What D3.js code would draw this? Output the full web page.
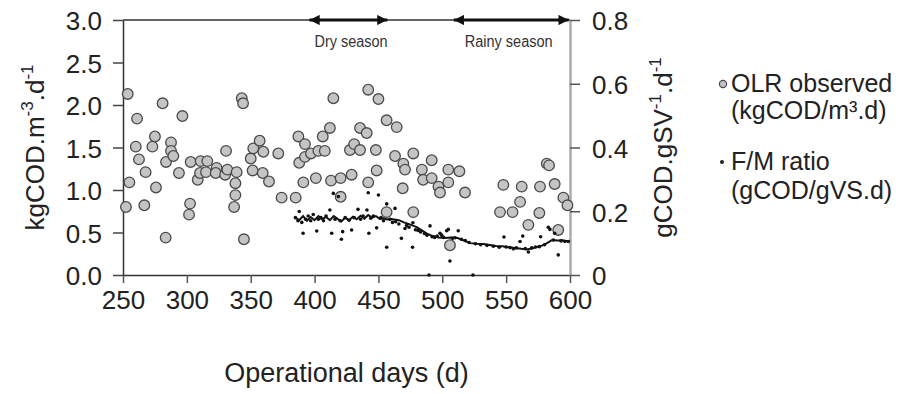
<!DOCTYPE html>
<html>
<head>
<meta charset="utf-8">
<script src="https://cdn.jsdelivr.net/npm/d3@7/dist/d3.min.js"></script>
<style>
  body { margin: 0; background: #fff; }
  svg { font-family: "Liberation Sans", Arial, sans-serif; }
  .axis text { fill: #222; }
</style>
</head>
<body>
<svg id="chart" width="903" height="394"></svg>
<script>
var svg = d3.select("#chart");

// plot box (not called "top": that name is taken by window.top)
var plotLeft = 123, plotRight = 570, plotTop = 20, plotBottom = 275;

// OLR observed (kgCOD/m3.d) - left axis
var olrDays = [253.7, 252.3, 255, 261, 260, 262.5, 267.7, 266.7, 281, 275, 273, 275.8, 283.4, 283.7, 287.6, 287.6, 289.4,
  296.5, 293.8, 303, 302.5, 301.7, 308.5, 310.8, 310.3, 316, 315, 323.3, 322.6, 330, 330.7, 331.7, 339, 338, 338, 337,
  343, 344, 344.7, 350, 351.5, 352, 357, 359.9, 359.4, 364.3, 371.6, 374.2, 385.2, 387.3, 392.5, 388, 392.5, 397.2,
  391.2, 401, 403, 408, 406.4, 412, 414.7, 412.9, 420.4, 420.4, 429, 427.7, 431, 435.6, 435.6, 440.8, 442, 450, 442,
  448, 448.6, 456.4, 464.3, 463, 469.5, 470.8, 477.3, 469, 477.3, 456.4, 491.7, 484, 485, 491.7, 497, 498.2, 504.7,
  504.7, 513.4, 517.8, 506, 547.8, 545.2, 555, 562.2, 560.9, 576.5, 576, 567.4, 581.8, 583.6, 588, 594.8, 598, 590.8];
var olrValues = [2.13, 0.80, 1.09, 1.84, 1.51, 1.36, 1.21, 0.82, 2.02, 1.63, 1.51, 1.03, 0.44, 1.33, 1.56, 1.46, 1.40,
  1.87, 1.20, 1.33, 0.84, 0.71, 1.12, 1.34, 1.20, 1.34, 1.21, 1.26, 1.20, 1.18, 1.46, 1.24, 1.21, 1.08, 0.94, 0.80,
  2.08, 2.02, 0.42, 1.37, 1.23, 1.49, 1.58, 1.45, 1.20, 1.10, 1.43, 0.91, 0.91, 1.63, 1.54, 1.32, 1.39, 1.43,
  1.09, 1.14, 1.46, 1.46, 1.63, 1.73, 2.08, 1.11, 1.14, 0.92, 1.18, 1.47, 1.54, 1.47, 1.73, 1.67, 2.18, 2.07, 1.09,
  1.47, 1.23, 1.82, 1.74, 1.40, 1.31, 1.24, 1.43, 1.02, 0.74, 0.74, 1.35, 1.24, 1.12, 1.14, 1.04, 0.97, 1.24,
  1.09, 1.22, 0.97, 0.35, 1.06, 0.74, 0.74, 1.04, 0.86, 1.04, 0.73, 0.59, 1.31, 1.29, 1.07, 0.91, 0.82, 0.53];

// F/M ratio (gCOD/gVS.d) - right axis
var fmDays = [385, 387, 388, 390, 391, 393, 395, 397, 399, 401.7, 403, 405, 407, 409, 412, 413.4, 414.7, 416, 418.6, 420,
  421, 422, 424, 427, 429, 431, 434, 436, 438, 441, 442, 442.5, 444, 446, 448.6, 450, 452, 454, 456.5, 456.5, 459, 461,
  463, 463.5, 466, 468, 470.8, 472, 474, 476.7, 477, 479, 481, 483, 486, 488, 489.6, 490.4, 492, 494, 496, 498.2, 499.5,
  501, 503.4, 504.7, 506, 508, 510, 512.5, 515, 518, 521, 524, 526, 530, 535, 540, 544.6, 548.3, 550, 553, 555.6, 558,
  560.9, 563, 565, 567.4, 570, 573, 576, 577, 580, 583, 584.3, 587, 588, 590.8, 593, 596, 598.7];
var fmValues = [0.18, 0.17, 0.199, 0.165, 0.131, 0.175, 0.185, 0.17, 0.19, 0.138, 0.175, 0.18, 0.17, 0.185, 0.204, 0.131,
  0.256, 0.175, 0.246, 0.17, 0.112, 0.136, 0.18, 0.172, 0.141, 0.18, 0.206, 0.175, 0.185, 0.204, 0.258, 0.131, 0.178,
  0.185, 0.148, 0.251, 0.18, 0.17, 0.223, 0.087, 0.175, 0.165, 0.209, 0.167, 0.16, 0.115, 0.146, 0.155, 0.15, 0.087,
  0.164, 0.142, 0.14, 0.135, 0.13, 0.125, 0, 0.154, 0.12, 0.118, 0.122, 0.131, 0.125, 0.118, 0.139, 0.143, 0.044,
  0.115, 0.117, 0.139, 0.112, 0.108, 0.102, 0, 0.098, 0.095, 0.093, 0.09, 0.087, 0.119, 0.088, 0.086, 0.082, 0.085,
  0.105, 0.122, 0.083, 0.072, 0.085, 0.088, 0.089, 0.12, 0.095, 0.15, 0.143, 0.11, 0.131, 0.063, 0.107, 0.105, 0.105];

// smoothed F/M trend line
var trendDays = [385, 388, 391, 394, 397, 400, 403, 406, 409, 412, 415, 418, 421, 424, 427, 430, 433, 436, 439, 442, 445,
  448, 451, 454, 457, 460, 466, 470, 475, 480, 484, 488, 492, 497, 502, 507, 512, 517, 522, 527, 532, 537, 542, 547,
  552, 557, 562, 566, 570, 574, 578, 582, 586, 590, 594, 598, 600];
var trendValues = [0.18, 0.172, 0.185, 0.17, 0.182, 0.172, 0.185, 0.175, 0.182, 0.172, 0.185, 0.176, 0.168, 0.18, 0.172,
  0.183, 0.175, 0.186, 0.177, 0.188, 0.18, 0.185, 0.176, 0.178, 0.174, 0.176, 0.172, 0.165, 0.158, 0.15, 0.14, 0.13,
  0.123, 0.118, 0.116, 0.118, 0.116, 0.108, 0.1, 0.098, 0.097, 0.094, 0.091, 0.09, 0.087, 0.085, 0.082, 0.08, 0.083,
  0.088, 0.092, 0.1, 0.11, 0.108, 0.109, 0.106, 0.107];

var xTicks = [250, 300, 350, 400, 450, 500, 550, 600];
var yLeftTicks = [0, 0.5, 1.0, 1.5, 2.0, 2.5, 3.0];
var yRightTicks = [0, 0.2, 0.4, 0.6, 0.8];

var seasonNames = ["Dry season", "Rainy season"];
var seasonStart = [396, 509];
var seasonEnd = [457, 599];
var seasonLabelAt = [428.5, 552];

var xScale = d3.scaleLinear().domain([250, 600]).range([plotLeft, plotRight]);
var yLeft = d3.scaleLinear().domain([0, 3]).range([plotBottom, plotTop]);
var yRight = d3.scaleLinear().domain([0, 0.8]).range([plotBottom, plotTop]);

// top frame line
svg.append("line")
   .attr("x1", plotLeft).attr("x2", plotRight)
   .attr("y1", plotTop).attr("y2", plotTop)
   .attr("stroke", "#333").attr("stroke-width", 1.5);

// bottom axis
var xAxis = svg.append("g")
   .attr("class", "axis")
   .attr("transform", "translate(0," + plotBottom + ")")
   .call(d3.axisBottom(xScale).tickValues(xTicks).tickSize(8).tickSizeOuter(0).tickPadding(23));
xAxis.select(".domain").attr("stroke", "#333").attr("stroke-width", 1.5);
xAxis.selectAll(".tick line").attr("stroke", "#555").attr("stroke-width", 1.5);
xAxis.selectAll("text").attr("font-size", 26).attr("dy", "0.1em");

// left axis
var yAxisL = svg.append("g")
   .attr("class", "axis")
   .attr("transform", "translate(" + plotLeft + ",0)")
   .call(d3.axisLeft(yLeft).tickValues(yLeftTicks).tickFormat(d3.format(".1f")).tickSize(10).tickSizeOuter(0).tickPadding(11));
yAxisL.select(".domain").attr("stroke", "#333").attr("stroke-width", 1.5);
yAxisL.selectAll(".tick line").attr("stroke", "#444").attr("stroke-width", 1.5);
yAxisL.selectAll("text").attr("font-size", 26).attr("dy", "0.38em");

// right axis
var yAxisR = svg.append("g")
   .attr("class", "axis")
   .attr("transform", "translate(" + plotRight + ",0)")
   .call(d3.axisRight(yRight).tickValues(yRightTicks)
     .tickFormat(function(d) { return d === 0 ? "0" : d.toFixed(1); })
     .tickSize(10).tickSizeOuter(0).tickPadding(12));
yAxisR.select(".domain").attr("stroke", "#aaa").attr("stroke-width", 2.5);
yAxisR.selectAll(".tick line").attr("stroke", "#555").attr("stroke-width", 1.5);
yAxisR.selectAll("text").attr("font-size", 26).attr("dy", "0.38em");

// axis titles
svg.append("text")
   .attr("x", (plotLeft + plotRight) / 2).attr("y", 382)
   .attr("text-anchor", "middle").attr("font-size", 27).attr("fill", "#222")
   .text("Operational days (d)");

var yTitleL = svg.append("text")
   .attr("transform", "translate(44," + ((plotTop + plotBottom) / 2) + ") rotate(-90)")
   .attr("text-anchor", "middle").attr("font-size", 26).attr("fill", "#222");
yTitleL.append("tspan").text("kgCOD.m");
yTitleL.append("tspan").attr("dy", -11).attr("font-size", 17).text("-3");
yTitleL.append("tspan").attr("dy", 11).text(".d");
yTitleL.append("tspan").attr("dy", -11).attr("font-size", 17).text("-1");

var yTitleR = svg.append("text")
   .attr("transform", "translate(672," + ((plotTop + plotBottom) / 2) + ") rotate(-90)")
   .attr("text-anchor", "middle").attr("font-size", 26).attr("fill", "#222");
yTitleR.append("tspan").text("gCOD.gSV");
yTitleR.append("tspan").attr("dy", -11).attr("font-size", 17).text("-1");
yTitleR.append("tspan").attr("dy", 11).text(".d");
yTitleR.append("tspan").attr("dy", -11).attr("font-size", 17).text("-1");

// season arrows
var defs = svg.append("defs");
defs.append("marker")
   .attr("id", "head")
   .attr("viewBox", "0 0 10 10")
   .attr("refX", 10).attr("refY", 5)
   .attr("markerWidth", 4).attr("markerHeight", 3.4)
   .attr("markerUnits", "strokeWidth")
   .attr("orient", "auto-start-reverse")
   .append("path").attr("d", "M0,0L10,5L0,10Z").attr("fill", "#111");

svg.selectAll("seasonArrows")
   .data(seasonNames)
   .enter()
   .append("line")
   .attr("x1", function(d, i) { return xScale(seasonStart[i]); })
   .attr("x2", function(d, i) { return xScale(seasonEnd[i]); })
   .attr("y1", plotTop).attr("y2", plotTop)
   .attr("stroke", "#111").attr("stroke-width", 3)
   .attr("marker-start", "url(#head)")
   .attr("marker-end", "url(#head)");

svg.selectAll("seasonLabels")
   .data(seasonNames)
   .enter()
   .append("text")
   .attr("x", function(d, i) { return xScale(seasonLabelAt[i]); })
   .attr("y", 47)
   .attr("text-anchor", "middle")
   .attr("font-size", 16)
   .attr("fill", "#333")
   .attr("textLength", function(d, i) { return i === 0 ? 73 : 88; })
   .attr("lengthAdjust", "spacingAndGlyphs")
   .text(function(d) { return d; });

// OLR circles
svg.selectAll("olr")
   .data(olrDays)
   .enter()
   .append("circle")
   .attr("cx", function(d) { return xScale(d); })
   .attr("cy", function(d, i) { return yLeft(olrValues[i]); })
   .attr("r", 5.3)
   .attr("fill", "#c4c4c4")
   .attr("stroke", "#4a4a4a")
   .attr("stroke-width", 1.3);

// F/M trend line
var line = d3.line()
   .x(function(d) { return xScale(d); })
   .y(function(d, i) { return yRight(trendValues[i]); });
svg.append("path")
   .datum(trendDays)
   .attr("d", line)
   .attr("fill", "none")
   .attr("stroke", "#111")
   .attr("stroke-width", 2);

// F/M dots
svg.selectAll("fm")
   .data(fmDays)
   .enter()
   .append("circle")
   .attr("cx", function(d) { return xScale(d); })
   .attr("cy", function(d, i) { return yRight(fmValues[i]); })
   .attr("r", 1.8)
   .attr("fill", "#111");

// legend
svg.append("circle").attr("cx", 723).attr("cy", 84).attr("r", 3.6)
   .attr("fill", "#c4c4c4").attr("stroke", "#4a4a4a").attr("stroke-width", 1.2);
svg.append("circle").attr("cx", 722).attr("cy", 162).attr("r", 2).attr("fill", "#222");

var legendLines = [["OLR observed", 92], ["(kgCOD/m³.d)", 119], ["F/M ratio", 170], ["(gCOD/gVS.d)", 199]];
svg.selectAll("legendText")
   .data(legendLines)
   .enter()
   .append("text")
   .attr("x", 731)
   .attr("y", function(d) { return d[1]; })
   .attr("font-size", 25)
   .attr("fill", "#222")
   .text(function(d) { return d[0]; });
</script>
</body>
</html>
